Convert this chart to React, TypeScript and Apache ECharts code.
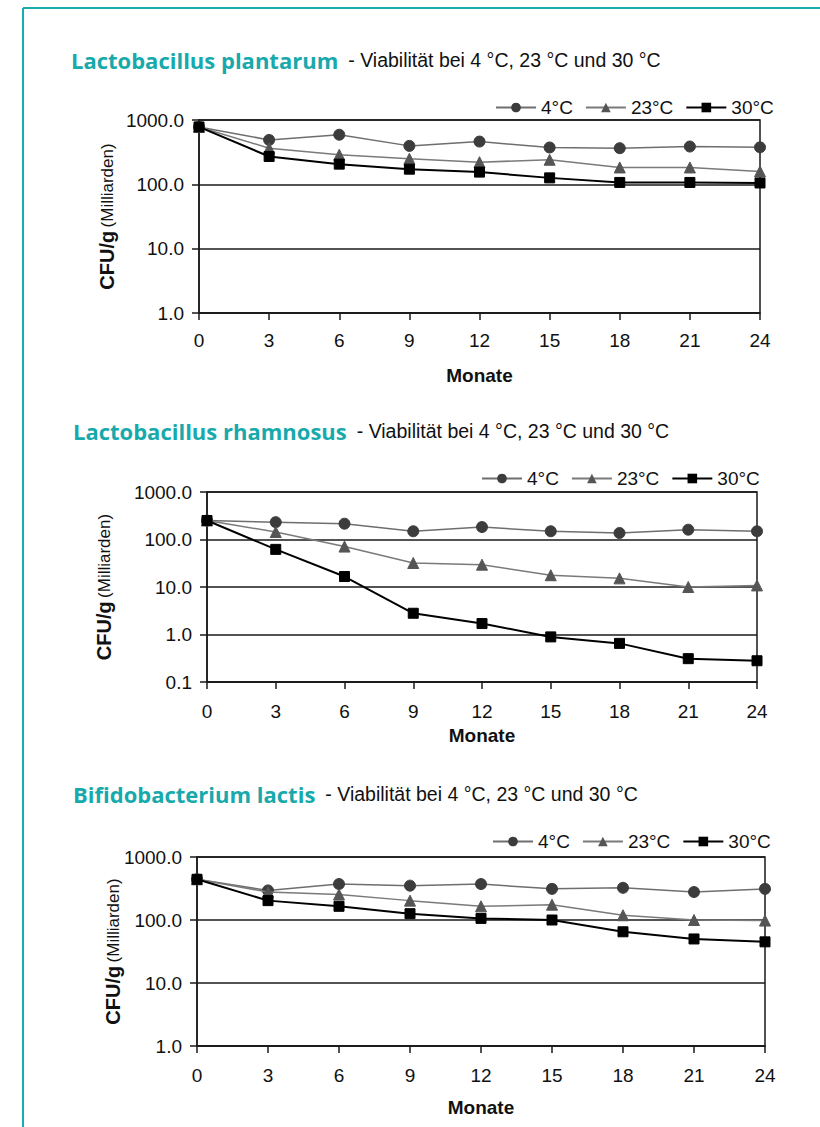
import React, { useEffect, useRef } from "react";
import * as echarts from "echarts";

const months = [0, 3, 6, 9, 12, 15, 18, 21, 24];
const seriesNames = ["4°C", "23°C", "30°C"];

const plantarum4 = [780, 490, 590, 396, 462, 374, 365, 387, 376];
const plantarum23 = [780, 365, 288, 250, 221, 241, 183, 183, 159];
const plantarum30 = [780, 271, 206, 172, 155, 126, 107, 107, 105];

const rhamnosus4 = [251, 232, 215, 149, 183, 149, 137, 161, 149];
const rhamnosus23 = [251, 144, 71, 32, 29.5, 17.7, 15.2, 10, 10.8];
const rhamnosus30 = [251, 62, 16.6, 2.8, 1.7, 0.89, 0.65, 0.31, 0.28];

const lactis4 = [443, 295, 372, 351, 372, 312, 324, 278, 312];
const lactis23 = [443, 278, 254, 203, 165, 175, 119, 100, 98];
const lactis30 = [443, 203, 165, 126, 106, 100, 65, 50, 45];

const titles = ["Lactobacillus plantarum", "Lactobacillus rhamnosus", "Bifidobacterium lactis"];
const subtitle = "- Viabilität bei 4 °C, 23 °C und 30 °C";
const yName = "CFU/g";
const yNameSub = "(Milliarden)";
const xName = "Monate";

const panels = [
  { data: [plantarum4, plantarum23, plantarum30], yMin: 1, grid: { left: 199, top: 120, width: 561, height: 193 }, title: { left: 66, top: 44 }, legend: { left: 490, top: 93 }, yGap: 82, xGap: 53, labelMargin: 18 },
  { data: [rhamnosus4, rhamnosus23, rhamnosus30], yMin: 0.1, grid: { left: 207, top: 492, width: 550, height: 190 }, title: { left: 68, top: 415 }, legend: { left: 476, top: 464 }, yGap: 93, xGap: 44, labelMargin: 20 },
  { data: [lactis4, lactis23, lactis30], yMin: 1, grid: { left: 197, top: 857, width: 568, height: 189 }, title: { left: 68, top: 778 }, legend: { left: 487, top: 827 }, yGap: 74, xGap: 52, labelMargin: 20 },
];

const styles = [
  { symbol: "circle", symbolSize: 11, line: "#6e6e6e", fill: "#3c3c3c", width: 1.5 },
  { symbol: "triangle", symbolSize: 11, line: "#7a7a7a", fill: "#555555", width: 1.5 },
  { symbol: "rect", symbolSize: 10, line: "#000000", fill: "#000000", width: 2 },
];

const FONT = "'Liberation Sans', Arial, sans-serif";

export default function App() {
  const ref = useRef<HTMLDivElement>(null);
  useEffect(() => {
    if (!ref.current) return;
    const chart = echarts.init(ref.current, undefined, { renderer: "svg" });
    const grid: any[] = [];
    const xAxis: any[] = [];
    const yAxis: any[] = [];
    const series: any[] = [];
    const title: any[] = [];
    const legend: any[] = [];
    panels.forEach((p, i) => {
      grid.push({ ...p.grid, show: true, borderColor: "#1a1a1a", borderWidth: 1.5, backgroundColor: "transparent" });
      xAxis.push({
        gridIndex: i,
        type: "value",
        min: 0,
        max: 24,
        interval: 3,
        name: xName,
        nameLocation: "middle",
        nameGap: p.xGap,
        nameMoveOverlap: false,
        nameTextStyle: { fontFamily: FONT, fontWeight: "bold", fontSize: 19, color: "#111" },
        axisLine: { show: true, onZero: false, lineStyle: { color: "#1a1a1a", width: 1.5 } },
        axisTick: { show: true, length: 7, lineStyle: { color: "#1a1a1a", width: 1.5 } },
        axisLabel: { fontFamily: FONT, fontSize: 19, color: "#111", margin: p.labelMargin },
        splitLine: { show: false },
      });
      yAxis.push({
        gridIndex: i,
        type: "log",
        logBase: 10,
        min: p.yMin,
        max: 1000,
        name: `{a|${yName}} {b|${yNameSub}}`,
        nameLocation: "middle",
        nameRotate: 90,
        nameGap: p.yGap,
        nameMoveOverlap: false,
        nameTextStyle: {
          rich: {
            a: { fontFamily: FONT, fontWeight: "bold", fontSize: 20, color: "#111" },
            b: { fontFamily: FONT, fontWeight: "normal", fontSize: 17, color: "#111" },
          },
        },
        axisLine: { show: true, lineStyle: { color: "#1a1a1a", width: 1.5 } },
        axisTick: { show: true, length: 7, lineStyle: { color: "#1a1a1a", width: 1.5 } },
        axisLabel: { fontFamily: FONT, fontSize: 19, color: "#111", margin: 15, formatter: (v: number) => Number(v).toFixed(1) },
        splitLine: { show: true, lineStyle: { color: "#1a1a1a", width: 1.5 } },
        minorSplitLine: { show: false },
      });
      p.data.forEach((vals, k) => {
        const s = styles[k];
        series.push({
          type: "line",
          name: seriesNames[k],
          xAxisIndex: i,
          yAxisIndex: i,
          data: months.map((m, j) => [m, vals[j]]),
          symbol: s.symbol,
          symbolSize: s.symbolSize,
          showAllSymbol: true,
          lineStyle: { color: s.line, width: s.width },
          itemStyle: { color: s.fill, borderColor: s.fill },
          z: 3 + k,
        });
      });
      title.push({
        left: p.title.left,
        top: p.title.top,
        text: `{a|${titles[i]}}  {b|${subtitle}}`,
        textStyle: {
          fontWeight: "normal",
          rich: {
            a: { fontFamily: "'Open Sans', Lato, sans-serif", fontWeight: "bold", fontSize: 22, color: "#17a9ab" },
            b: { fontFamily: FONT, fontWeight: "normal", fontSize: 19.5, color: "#111" },
          },
        },
      });
      legend.push({
        left: p.legend.left,
        top: p.legend.top,
        data: seriesNames,
        itemWidth: 40,
        itemHeight: 12,
        itemGap: 12,
        selectedMode: false,
        textStyle: { fontFamily: FONT, fontSize: 19, color: "#111" },
      });
    });
    chart.setOption({
      animation: false,
      backgroundColor: "#ffffff",
      grid,
      xAxis,
      yAxis,
      series,
      title,
      legend,
      graphic: [
        { type: "line", shape: { x1: 23, y1: 8, x2: 820, y2: 8 }, style: { stroke: "#19acae", lineWidth: 2 } },
        { type: "line", shape: { x1: 23, y1: 8, x2: 23, y2: 1127 }, style: { stroke: "#19acae", lineWidth: 2 } },
      ],
    });
    return () => chart.dispose();
  }, []);
  return <div ref={ref} style={{ position: "fixed", left: 0, top: 0, width: 820, height: 1127 }} />;
}
